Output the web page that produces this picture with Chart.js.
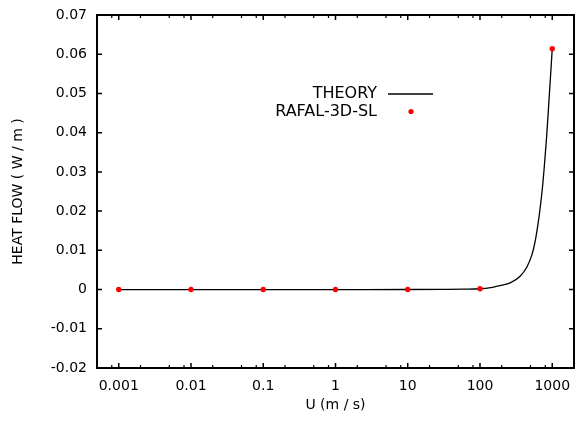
<!DOCTYPE html>
<html>
<head>
<meta charset="utf-8">
<script src="https://cdn.jsdelivr.net/npm/chart.js@4/dist/chart.umd.min.js"></script>
<style>
  html, body { margin: 0; padding: 0; background: #fff; }
  canvas { display: block; }
</style>
</head>
<body>
<canvas id="c" width="578" height="423"></canvas>
<script>
// Values
const theoryU = [0.001, 0.01, 0.1, 1, 10, 30, 60, 100, 140, 172, 262, 359, 444, 520, 577, 628, 676, 729, 776, 836, 889, 1000];
const theoryQ = [0, 0, 0, 0, 0.00001, 0.00005, 0.0001, 0.0002, 0.0005, 0.00087, 0.0017, 0.0034, 0.0057, 0.0087, 0.0121, 0.0161, 0.0204, 0.0257, 0.0313, 0.0390, 0.0465, 0.0614];

const rafalU = [0.001, 0.01, 0.1, 1, 10, 100, 1000];
const rafalQ = [0, 0, 0, 0, 0, 0.0002, 0.0614];

const xTicks = [0.001, 0.01, 0.1, 1, 10, 100, 1000];
const xTickLabels = ['0.001', '0.01', '0.1', '1', '10', '100', '1000'];
const xMinorTicks = [0.0008, 0.002, 0.005, 0.008, 0.02, 0.05, 0.08, 0.2, 0.5, 0.8,
                     2, 5, 8, 20, 50, 80, 200, 500, 800];
const yTicks = [-0.02, -0.01, 0, 0.01, 0.02, 0.03, 0.04, 0.05, 0.06, 0.07];
const yTickLabels = ['-0.02', '-0.01', '0', '0.01', '0.02', '0.03', '0.04', '0.05', '0.06', '0.07'];

const FONT = 'DejaVu Sans';

// gnuplot style box with inward ticks, plus the key
const framePlugin = {
    id: 'frame',
    afterDraw(chart) {
        const { ctx, chartArea: a, scales: { x, y } } = chart;
        ctx.save();
        ctx.strokeStyle = '#000';

        ctx.lineWidth = 1.5;
        ctx.beginPath();
        xTicks.forEach(v => {
            const px = x.getPixelForValue(v);
            ctx.moveTo(px, a.bottom); ctx.lineTo(px, a.bottom - 5);
            ctx.moveTo(px, a.top); ctx.lineTo(px, a.top + 5);
        });
        yTicks.forEach(v => {
            const py = y.getPixelForValue(v);
            ctx.moveTo(a.left, py); ctx.lineTo(a.left + 5, py);
            ctx.moveTo(a.right, py); ctx.lineTo(a.right - 5, py);
        });
        ctx.stroke();

        ctx.lineWidth = 1.2;
        ctx.beginPath();
        xMinorTicks.forEach(v => {
            const px = x.getPixelForValue(v);
            ctx.moveTo(px, a.bottom); ctx.lineTo(px, a.bottom - 3);
            ctx.moveTo(px, a.top); ctx.lineTo(px, a.top + 3);
        });
        ctx.stroke();

        ctx.lineWidth = 2;
        ctx.strokeRect(a.left, a.top, a.right - a.left, a.bottom - a.top);

        // key
        ctx.font = '16px "' + FONT + '"';
        ctx.fillStyle = '#000';
        ctx.textAlign = 'right';
        ctx.textBaseline = 'middle';
        ctx.fillText('THEORY', 377, 94);
        ctx.fillText('RAFAL-3D-SL', 377, 112);
        ctx.lineWidth = 1.3;
        ctx.beginPath();
        ctx.moveTo(388, 94); ctx.lineTo(433, 94);
        ctx.stroke();
        ctx.fillStyle = '#ff0000';
        ctx.beginPath();
        ctx.arc(411, 111.5, 2.6, 0, Math.PI * 2);
        ctx.fill();
        ctx.restore();
    }
};

new Chart(document.getElementById('c'), {
    type: 'scatter',
    data: {
        datasets: [{
            label: 'RAFAL-3D-SL',
            data: rafalU.map((u, i) => ({ x: u, y: rafalQ[i] })),
            backgroundColor: '#ff0000',
            borderWidth: 0,
            pointRadius: 2.7,
            order: 0
        }, {
            label: 'THEORY',
            data: theoryU.map((u, i) => ({ x: u, y: theoryQ[i] })),
            showLine: true,
            borderColor: '#000',
            borderWidth: 1.3,
            pointRadius: 0,
            cubicInterpolationMode: 'monotone',
            order: 1
        }]
    },
    options: {
        responsive: false,
        animation: false,
        devicePixelRatio: 1,
        layout: { padding: { top: 15, right: 1.5, left: 0, bottom: 0 } },
        plugins: {
            legend: { display: false },
            tooltip: { enabled: false }
        },
        scales: {
            x: {
                type: 'logarithmic',
                min: 0.0005,
                max: 2000,
                grid: { display: false, drawTicks: false },
                border: { display: false },
                afterBuildTicks: s => { s.ticks = xTicks.map(v => ({ value: v })); },
                afterFit: s => { s.height = 55; s.paddingLeft = 0; s.paddingRight = 0; },
                ticks: {
                    autoSkip: false,
                    maxRotation: 0,
                    padding: 10,
                    color: '#000',
                    font: { family: FONT, size: 14 },
                    callback: (v, i) => xTickLabels[i]
                },
                title: {
                    display: true,
                    text: 'U (m / s)',
                    color: '#000',
                    font: { family: FONT, size: 14 },
                    padding: { top: 0, bottom: 9 }
                }
            },
            y: {
                min: -0.02,
                max: 0.07,
                grid: { display: false, drawTicks: false },
                border: { display: false },
                afterBuildTicks: s => { s.ticks = yTicks.map(v => ({ value: v })); },
                afterFit: s => { s.width = 97; s.paddingTop = 0; s.paddingBottom = 0; },
                ticks: {
                    autoSkip: false,
                    padding: 10,
                    color: '#000',
                    font: { family: FONT, size: 14 },
                    callback: (v, i) => yTickLabels[i]
                },
                title: {
                    display: true,
                    text: 'HEAT FLOW ( W / m )',
                    color: '#000',
                    font: { family: FONT, size: 14 },
                    padding: { top: 10, bottom: 0 }
                }
            }
        }
    },
    plugins: [framePlugin]
});
</script>
</body>
</html>
